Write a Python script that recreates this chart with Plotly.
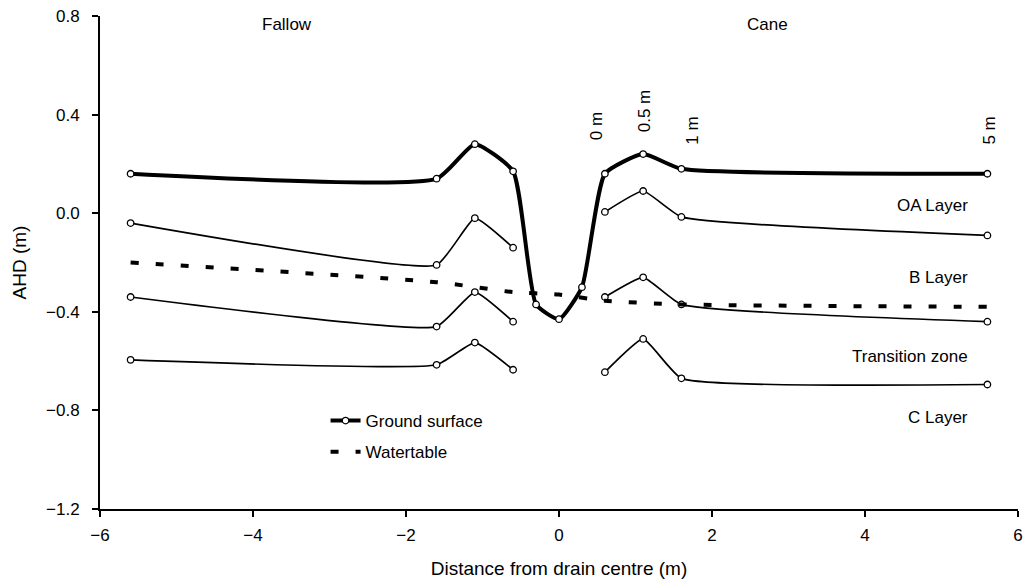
import plotly.graph_objects as go

# ---- data ----
x_ground = [-5.6, -1.6, -1.1, -0.6, -0.3, 0.0, 0.3, 0.6, 1.1, 1.6, 5.6]
y_ground = [0.16, 0.14, 0.28, 0.17, -0.37, -0.43, -0.30, 0.16, 0.24, 0.18, 0.16]

x_layer = [-5.6, -1.6, -1.1, -0.6, None, 0.6, 1.1, 1.6, 5.6]
y_oa = [-0.04, -0.21, -0.02, -0.14, None, 0.005, 0.09, -0.015, -0.09]
y_b = [-0.34, -0.46, -0.32, -0.44, None, -0.34, -0.26, -0.37, -0.44]
y_tz = [-0.595, -0.615, -0.525, -0.635, None, -0.645, -0.51, -0.67, -0.695]

x_water = [-5.6, -1.6, -0.6, 0.0, 0.6, 1.6, 5.6]
y_water = [-0.20, -0.28, -0.32, -0.33, -0.355, -0.37, -0.38]

region_labels = ["Fallow", "Cane"]
region_x = [-3.56, 2.73]
layer_labels = ["OA Layer", "B Layer", "Transition zone", "C Layer"]
layer_y = [0.033, -0.259, -0.583, -0.827]
dist_labels = ["0 m", "0.5 m", "1 m", "5 m"]
dist_x = [0.5, 1.12, 1.75, 5.63]
dist_y = [0.289, 0.321, 0.269, 0.269]

FONT = "Liberation Sans, Arial, Helvetica, sans-serif"

fig = go.Figure()

marker_style = dict(symbol="circle", size=6.5, color="white",
                    line=dict(color="black", width=1.3))

for yy in (y_oa, y_b, y_tz):
    fig.add_trace(go.Scatter(
        x=x_layer, y=yy, mode="lines+markers",
        line=dict(color="black", width=1.7, shape="spline", smoothing=0.4),
        marker=marker_style, showlegend=False, connectgaps=False,
        hoverinfo="skip"))

fig.add_trace(go.Scatter(
    x=x_water, y=y_water, mode="lines", name="Watertable",
    line=dict(color="black", width=4, dash="8px,17px", shape="spline",
              smoothing=0.6),
    legendgroup="b", legendrank=2))

fig.add_trace(go.Scatter(
    x=x_ground, y=y_ground, mode="lines+markers", name="Ground surface",
    line=dict(color="black", width=4, shape="spline", smoothing=0.5),
    marker=marker_style, legendgroup="a", legendrank=1))

annotations = []
for t, xv in zip(region_labels, region_x):
    annotations.append(dict(x=xv, y=0.765, text=t, showarrow=False,
                            xanchor="center", yanchor="middle"))
for t, yv in zip(layer_labels, layer_y):
    annotations.append(dict(x=5.37, y=yv, text=t, showarrow=False,
                            xanchor="right", yanchor="middle"))
for t, xv, yv in zip(dist_labels, dist_x, dist_y):
    annotations.append(dict(x=xv, y=yv, text=t, showarrow=False, textangle=-90,
                            xanchor="center", yanchor="bottom"))

axis_common = dict(showline=True, linecolor="black", linewidth=2,
                   ticks="outside", ticklen=6, tickwidth=2, tickcolor="black",
                   showgrid=False, zeroline=False, mirror=False,
                   automargin=False,
                   tickfont=dict(size=17, color="black", family=FONT))

fig.update_layout(
    width=1029, height=584,
    margin=dict(l=100, r=11, t=16, b=75),
    paper_bgcolor="white", plot_bgcolor="white",
    font=dict(family=FONT, size=17, color="black"),
    xaxis=dict(range=[-6, 6], tickvals=[-6, -4, -2, 0, 2, 4, 6],
               ticklabelstandoff=4,
               title=dict(text="Distance from drain centre (m)",
                          font=dict(size=19), standoff=17),
               **axis_common),
    yaxis=dict(range=[-1.2, 0.8], tickvals=[-1.2, -0.8, -0.4, 0.0, 0.4, 0.8],
               tickformat=".1f", ticklabelstandoff=9,
               title=dict(text="AHD (m)", font=dict(size=19), standoff=14),
               **axis_common),
    legend=dict(x=0.2457, y=0.215, xanchor="left", yanchor="top",
                bgcolor="rgba(0,0,0,0)", font=dict(size=17),
                tracegroupgap=6, traceorder="grouped"),
    annotations=annotations,
)

fig.write_html("out.html")
